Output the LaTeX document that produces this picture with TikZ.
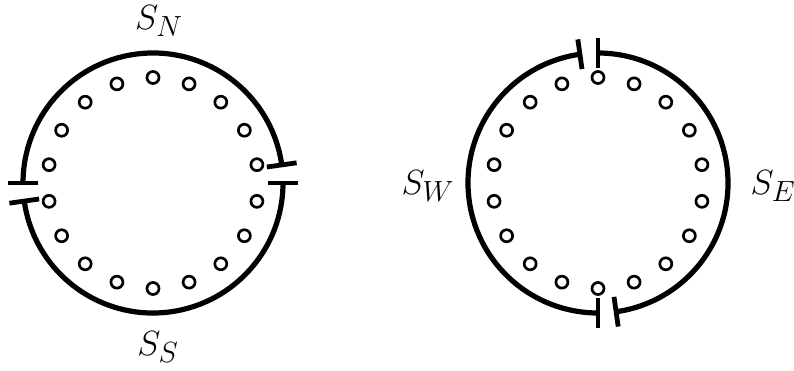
\documentclass[tikz,border=0pt]{standalone}
\tikzset{
  wire/.style={line width=3.7pt},
  plate/.style={line width=3.4pt},
  hole/.style={line width=1.9pt},
  name label/.style={font=\Huge}
}
\begin{document}
\begin{tikzpicture}[x=0.025cm,y=0.025cm]
\useasboundingbox (0,0) rectangle (794,370);

% centres of the two rings
\coordinate (ringL) at (153,187);
\coordinate (ringR) at (598,187);

% small holes
\foreach \a in {0,20,...,340} {
  \draw[hole] ([shift={(\a+10:105.5)}]ringL) circle (6);
  \draw[hole] ([shift={(\a+10:105.5)}]ringR) circle (6);
}

% left ring, gaps at east and west
\draw[wire] ([shift={(8:130)}]ringL) arc[start angle=8,end angle=180,radius=130];
\draw[wire] ([shift={(188:130)}]ringL) arc[start angle=188,end angle=360,radius=130];
\foreach \a in {0,8,180,188} {
  \draw[plate] ([shift={(\a:115)}]ringL) -- ([shift={(\a:145)}]ringL);
}

% right ring, gaps at north and south
\draw[wire] ([shift={(98:130)}]ringR) arc[start angle=98,end angle=270,radius=130];
\draw[wire] ([shift={(278:130)}]ringR) arc[start angle=278,end angle=450,radius=130];
\foreach \a in {90,98,270,278} {
  \draw[plate] ([shift={(\a:115)}]ringR) -- ([shift={(\a:145)}]ringR);
}

% labels
\node[name label] (north) at (159,349) {$S_N$};
\node[name label] (south) at (158,23) {$S_S$};
\node[name label] (west) at (428,184) {$S_W$};
\node[name label] (east) at (773,184) {$S_E$};

\end{tikzpicture}
\end{document}
